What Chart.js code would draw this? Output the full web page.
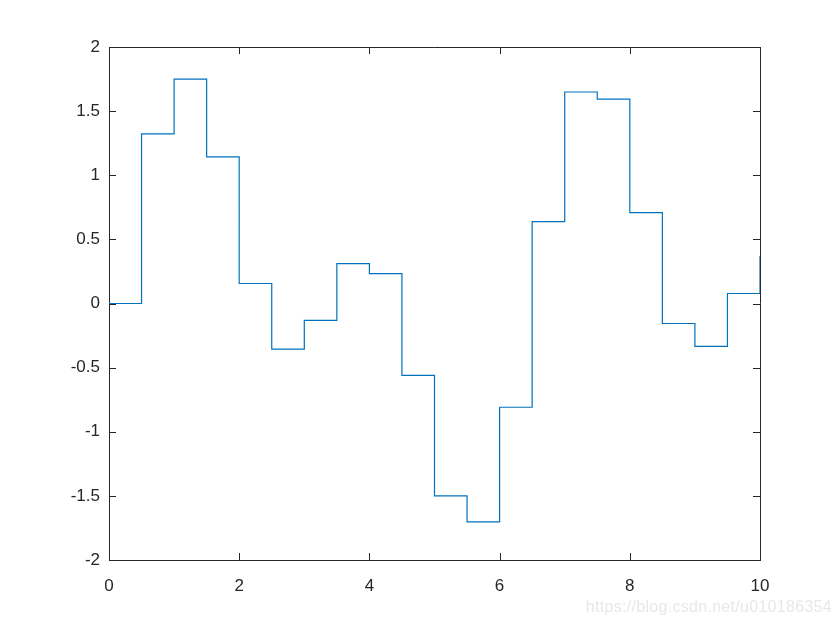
<!DOCTYPE html>
<html>
<head>
<meta charset="utf-8">
<script src="https://cdn.jsdelivr.net/npm/chart.js@4.4.1/dist/chart.umd.min.js"></script>
<style>
  html, body { margin: 0; padding: 0; background: #fff; }
  #wrap { position: relative; width: 840px; height: 630px; }
  #watermark {
    position: absolute; right: 8px; top: 598px;
    font: 16px "Liberation Sans", Arial, sans-serif;
    color: #e8e8e8; letter-spacing: 0.3px;
  }
</style>
</head>
<body>
<div id="wrap">
  <canvas id="stairsChart" width="840" height="630"></canvas>
  <div id="watermark">https://blog.csdn.net/u010186354</div>
</div>
<script>
const xValues = [0, 0.5, 1, 1.5, 2, 2.5, 3, 3.5, 4, 4.5, 5, 5.5, 6, 6.5, 7, 7.5, 8, 8.5, 9, 9.5, 10];
const yValues = [0, 1.322, 1.750, 1.143, 0.156, -0.355, -0.132, 0.311, 0.233, -0.560,
                 -1.500, -1.703, -0.809, 0.638, 1.649, 1.594, 0.708, -0.156, -0.334, 0.078, 0.370];
const xTicks = [0, 2, 4, 6, 8, 10];
const yTicks = [-2, -1.5, -1, -0.5, 0, 0.5, 1, 1.5, 2];

const axisColor = '#262626';
const lineColor = '#0072BD';
const fontFamily = '"Liberation Sans", Arial, sans-serif';

const points = xValues.map((x, i) => ({ x: x, y: yValues[i] }));

// MATLAB-style box with inward ticks on all four sides
const boxTicks = {
  id: 'boxTicks',
  afterDraw(chart) {
    const { ctx, chartArea: a, scales } = chart;
    const len = 7;
    ctx.save();
    ctx.strokeStyle = axisColor;
    ctx.lineWidth = 1;
    ctx.beginPath();
    ctx.moveTo(a.left, a.top + 0.5);
    ctx.lineTo(a.right + 0.5, a.top + 0.5);
    ctx.lineTo(a.right + 0.5, a.bottom);
    xTicks.forEach(v => {
      const px = Math.round(scales.x.getPixelForValue(v)) + 0.5;
      ctx.moveTo(px, a.bottom);
      ctx.lineTo(px, a.bottom - len);
      ctx.moveTo(px, a.top);
      ctx.lineTo(px, a.top + len);
    });
    yTicks.forEach(v => {
      const py = Math.round(scales.y.getPixelForValue(v)) + 0.5;
      ctx.moveTo(a.left, py);
      ctx.lineTo(a.left + len, py);
      ctx.moveTo(a.right, py);
      ctx.lineTo(a.right - len, py);
    });
    ctx.stroke();
    ctx.restore();
  }
};

new Chart(document.getElementById('stairsChart'), {
  type: 'line',
  data: {
    datasets: [{
      data: points,
      stepped: true,
      borderColor: lineColor,
      borderWidth: 1.2,
      pointRadius: 0,
      fill: false
    }]
  },
  options: {
    responsive: false,
    animation: false,
    layout: { padding: { left: 0, top: 47, right: 80, bottom: 0 } },
    plugins: { legend: { display: false }, tooltip: { enabled: false } },
    scales: {
      x: {
        type: 'linear',
        min: 0,
        max: 10,
        afterBuildTicks: s => { s.ticks = xTicks.map(v => ({ value: v })); },
        afterFit: s => { s.height = 70; },
        grid: { display: false, drawTicks: false },
        border: { display: true, color: axisColor, width: 1 },
        ticks: {
          color: axisColor,
          padding: 16,
          maxRotation: 0,
          callback: v => String(v),
          font: { family: fontFamily, size: 17 }
        }
      },
      y: {
        min: -2,
        max: 2,
        afterBuildTicks: s => { s.ticks = yTicks.map(v => ({ value: v })); },
        afterFit: s => { s.width = 109; },
        grid: { display: false, drawTicks: false },
        border: { display: true, color: axisColor, width: 1 },
        ticks: {
          color: axisColor,
          padding: 9,
          callback: v => String(v),
          font: { family: fontFamily, size: 17 }
        }
      }
    }
  },
  plugins: [boxTicks]
});
</script>
</body>
</html>
